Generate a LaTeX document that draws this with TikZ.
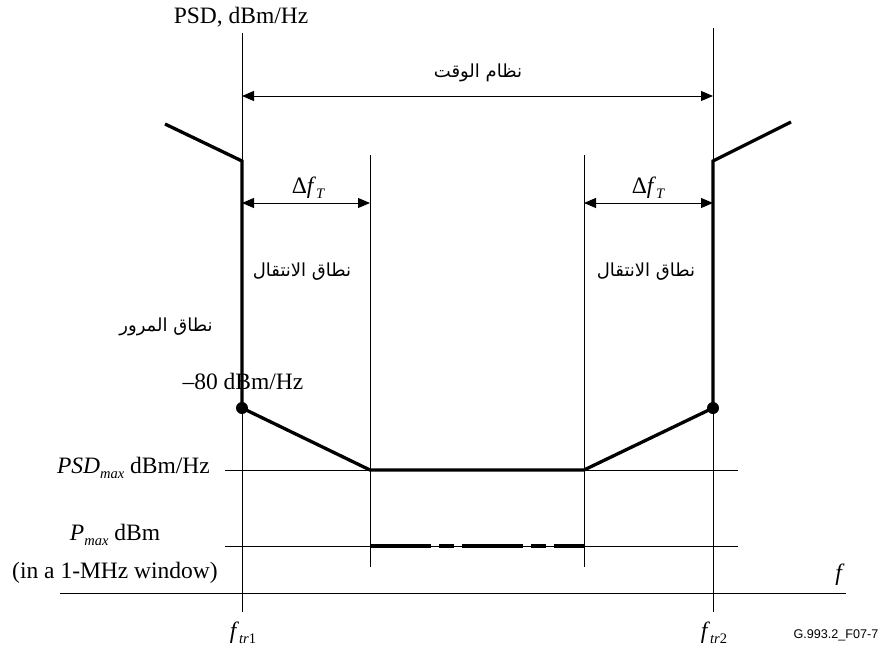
\documentclass[tikz,border=0pt]{standalone}
\usepackage{fontspec}
\setmainfont{Liberation Serif}
\newfontfamily\arabicfont[Script=Arabic]{DejaVu Sans}
\newfontfamily\labelsans{Liberation Sans}
\TeXXeTstate=1
\usetikzlibrary{arrows.meta}
\newcommand{\lowsub}[1]{\raisebox{-0.4ex}{\fontsize{14.5}{14.5}\selectfont\itshape #1}}
\begin{document}
\begin{tikzpicture}[x=1pt,y=-1pt,
  thinln/.style={line width=0.9pt},
  curve/.style={line width=3.3pt, line join=miter},
  dimline/.style={line width=0.9pt,{Triangle[length=12pt,width=10pt]}-{Triangle[length=12pt,width=10pt]}},
  txt/.style={font=\fontsize{23.5}{26}\selectfont, inner sep=0pt},
  ar/.style={font=\arabicfont\fontsize{18}{20}\selectfont, inner sep=0pt},
  dot/.style={circle, fill=black, inner sep=0pt, minimum size=12pt}]
\useasboundingbox (0,0) rectangle (884,651);

% vertical guide lines
\coordinate (vLt) at (242,33);  \coordinate (vLb) at (242,612);
\coordinate (vRt) at (713,28);  \coordinate (vRb) at (713,612);
\coordinate (iLt) at (370,155); \coordinate (iLb) at (370,567);
\coordinate (iRt) at (584,155); \coordinate (iRb) at (584,567);
\draw[thinln] (vLt) -- (vLb);
\draw[thinln] (vRt) -- (vRb);
\draw[thinln] (iLt) -- (iLb);
\draw[thinln] (iRt) -- (iRb);

% horizontal lines
\coordinate (psdA) at (225,470); \coordinate (psdB) at (738,470);
\coordinate (pA) at (225,546);   \coordinate (pB) at (738,546);
\coordinate (fA) at (60,593);    \coordinate (fB) at (846,593);
\draw[thinln] (psdA) -- (psdB);
\draw[thinln] (pA) -- (pB);
\draw[thinln] (fA) -- (fB);

% dimension arrows
\coordinate (tA) at (242,96); \coordinate (tB) at (713,96);
\draw[dimline] (tA) -- (tB);
\coordinate (dLa) at (242,203); \coordinate (dLb) at (370,203);
\coordinate (dRa) at (584,203); \coordinate (dRb) at (713,203);
\draw[dimline] (dLa) -- (dLb);
\draw[dimline] (dRa) -- (dRb);

% mask curve
\node[dot] (dotL) at (242,408) {};
\node[dot] (dotR) at (713,408) {};
\coordinate (cL0) at (165,124); \coordinate (cL1) at (242,161);
\coordinate (bL) at (370,470);  \coordinate (bR) at (584,470);
\coordinate (cR1) at (713,161); \coordinate (cR0) at (791,122);
\draw[curve] (cL0) -- (cL1) -- (dotL.center) -- (bL) -- (bR) -- (dotR.center) -- (cR1) -- (cR0);

% Pmax dashed
\coordinate (pmA) at (370,546); \coordinate (pmB) at (584,546);
\draw[line width=3.2pt, dash pattern=on 61pt off 8pt on 15pt off 8pt on 61pt off 8pt on 15pt off 8pt on 40pt] (pmA) -- (pmB);

% labels
\node[txt] (psdlab) at (241,17) {PSD, dBm/Hz};
\node[ar] (tslab) at (478,73) {\beginR نظام الوقت\endR};
\node[txt] (dfL) at (308,188) {Δ\textit{f}\lowsub{T}};
\node[txt] (dfR) at (648,188) {Δ\textit{f}\lowsub{T}};
\node[ar] (trL) at (302,272) {\beginR نطاق الانتقال\endR};
\node[ar] (trR) at (646,272) {\beginR نطاق الانتقال\endR};
\node[ar] (pb) at (166,327) {\beginR نطاق المرور\endR};
\node[txt] (m80) at (243,381) {–80 dBm/Hz};
\node[txt, anchor=east] (psdmax) at (210,468) {\textit{PSD}\lowsub{max} dBm/Hz};
\node[txt] (pmax) at (115,535) {\textit{P}\lowsub{max} dBm};
\node[txt] (win) at (115,573) {(in a 1-MHz window)};
\node[txt] (flab) at (840,575) {\textit{f}};
\node[txt] (ftr1) at (243,633) {\textit{f}\lowsub{tr}\lowsub{\upshape 1}};
\node[txt] (ftr2) at (714,633) {\textit{f}\lowsub{tr}\lowsub{\upshape 2}};
\node[font=\labelsans\fontsize{12.6}{14}\selectfont, inner sep=0pt] (fig) at (836,635) {G.993.2\_F07-7};
\end{tikzpicture}
\end{document}
